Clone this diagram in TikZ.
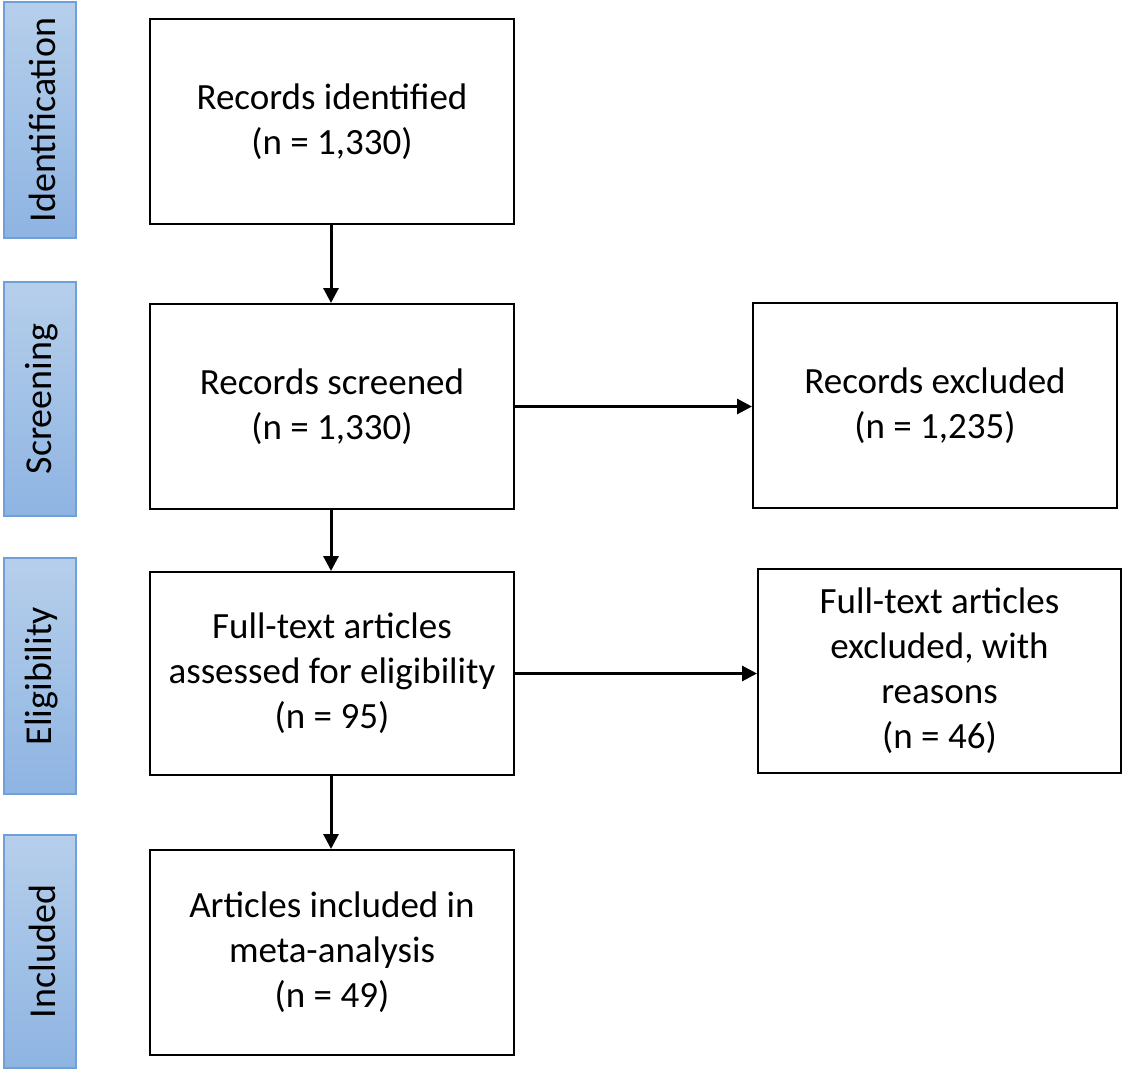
\documentclass[tikz,border=0pt]{standalone}
\usepackage{fontspec}
\setmainfont{Carlito}
\usetikzlibrary{arrows.meta}
\definecolor{sidetop}{HTML}{B6CFEB}
\definecolor{sidebot}{HTML}{8EB4E2}
\definecolor{sideline}{HTML}{6FA0D8}
\begin{document}
\begin{tikzpicture}[x=1pt,y=-1pt,
  stagebox/.style={draw=sideline,line width=1.2pt,top color=sidetop,bottom color=sidebot,shading angle=0},
  stagelabel/.style={rotate=90,font=\fontsize{38}{44}\selectfont,inner sep=0pt},
  flowbox/.style={draw=black,line width=2pt,fill=white,align=center,font=\fontsize{37}{45}\selectfont},
  flowarrow/.style={line width=3pt,-{Triangle[length=15pt,width=15pt]}}]
\useasboundingbox[fill=white] (0,0) rectangle (1122,1070);
% stage bars
\draw[stagebox] (4,2) rectangle (76,238);
\draw[stagebox] (4,282) rectangle (76,516);
\draw[stagebox] (4,558) rectangle (76,794);
\draw[stagebox] (4,835) rectangle (76,1068);
\node[stagelabel] (sIdent) at (42,120) {Identification};
\node[stagelabel] (sScreen) at (42,399) {Screening};
\node[stagelabel] (sElig) at (42,676) {Eligibility};
\node[stagelabel] (sIncl) at (42,951.5) {Included};
% boxes
\node[flowbox,minimum width=364pt,minimum height=205pt] (ident) at (332,121.5) {Records identified\\(n = 1,330)};
\node[flowbox,minimum width=364pt,minimum height=205pt] (screen) at (332,406.5) {Records screened\\(n = 1,330)};
\node[flowbox,minimum width=364pt,minimum height=205pt] (excl) at (935,405.5) {Records excluded\\(n = 1,235)};
\node[flowbox,minimum width=364pt,minimum height=203pt] (full) at (332,673.5) {Full-text articles\\assessed for eligibility\\(n = 95)};
\node[flowbox,minimum width=363pt,minimum height=204pt] (fexcl) at (939.5,671) {Full-text articles\\excluded, with\\reasons\\(n = 46)};
\node[flowbox,minimum width=364pt,minimum height=205pt] (incl) at (332,952.5) {Articles included in\\meta-analysis\\(n = 49)};
% arrows
\draw[flowarrow] (ident.south -| 331,0) -- (screen.north -| 331,0);
\draw[flowarrow] (screen.south -| 331,0) -- (full.north -| 331,0);
\draw[flowarrow] (full.south -| 331,0) -- (incl.north -| 331,0);
\draw[flowarrow] (screen.east) -- (excl.west |- screen.east);
\draw[flowarrow] (full.east) -- (fexcl.west |- full.east);
\end{tikzpicture}
\end{document}
